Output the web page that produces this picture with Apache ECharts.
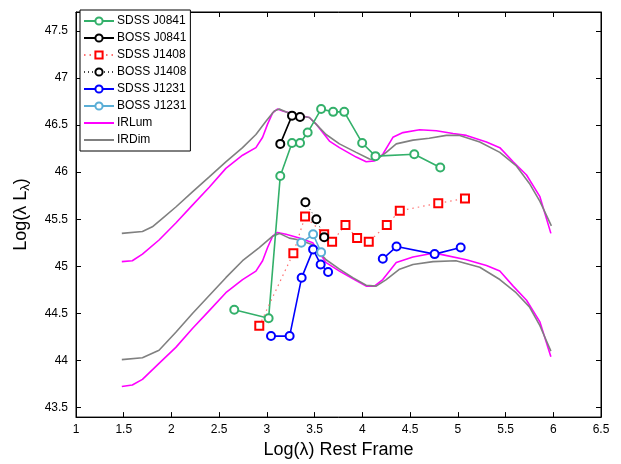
<!DOCTYPE html>
<html><head><meta charset="utf-8">
<script src="https://cdn.jsdelivr.net/npm/echarts@6/dist/echarts.min.js"></script>
<style>html,body{margin:0;padding:0;background:#fff}#c{width:621px;height:464px}</style>
</head><body><div id="c"></div>
<script>
// ---- data ----
const sdssJ0841 = [[2.658,44.54],[3.018,44.45],[3.14,45.96],[3.263,46.31],[3.347,46.31],[3.427,46.42],[3.568,46.67],[3.694,46.64],[3.81,46.64],[3.998,46.31],[4.137,46.17],[4.544,46.19],[4.816,46.05]];
const bossJ0841 = [[3.14,46.30],[3.263,46.60],[3.347,46.586]];
const sdssJ1408 = [[2.92,44.37],[3.277,45.14],[3.40,45.53],[3.60,45.34],[3.683,45.26],[3.823,45.44],[3.945,45.30],[4.067,45.26],[4.256,45.44],[4.392,45.59],[4.795,45.67],[5.075,45.72]];
const bossJ1408 = [[3.403,45.68],[3.518,45.50],[3.60,45.31]];
const sdssJ1231a = [[3.043,44.26],[3.238,44.26],[3.364,44.88],[3.484,45.18],[3.563,45.02],[3.641,44.94]];
const sdssJ1231b = [[4.214,45.08],[4.358,45.21],[4.757,45.13],[5.03,45.20]];
const bossJ1231 = [[3.36,45.25],[3.484,45.34],[3.568,45.15]];
const irLumUpper = [[1.48,45.05],[1.59,45.06],[1.696,45.13],[1.87,45.28],[2.046,45.46],[2.22,45.65],[2.396,45.84],[2.57,46.04],[2.745,46.18],[2.885,46.26],[2.955,46.37],[3.007,46.51],[3.06,46.63],[3.11,46.67],[3.165,46.65],[3.34,46.60],[3.445,46.58],[3.515,46.51],[3.655,46.33],[3.76,46.26],[3.935,46.16],[4.04,46.11],[4.127,46.12],[4.214,46.19],[4.32,46.37],[4.425,46.42],[4.60,46.45],[4.775,46.44],[4.95,46.41],[5.09,46.39],[5.30,46.32],[5.44,46.26],[5.58,46.11],[5.72,45.97],[5.86,45.74],[5.975,45.35]];
const irDimUpper = [[1.48,45.35],[1.696,45.37],[1.80,45.42],[1.906,45.51],[2.046,45.63],[2.22,45.79],[2.396,45.95],[2.57,46.11],[2.745,46.26],[2.885,46.40],[2.99,46.54],[3.077,46.65],[3.13,46.67],[3.27,46.61],[3.445,46.58],[3.515,46.51],[3.62,46.40],[3.76,46.30],[3.935,46.21],[4.075,46.14],[4.145,46.13],[4.25,46.21],[4.355,46.30],[4.53,46.34],[4.70,46.36],[4.88,46.39],[5.02,46.39],[5.23,46.32],[5.44,46.21],[5.61,46.07],[5.75,45.88],[5.86,45.69],[5.98,45.43]];
const irLumLower = [[1.48,43.725],[1.59,43.74],[1.696,43.80],[1.87,43.97],[2.046,44.14],[2.22,44.34],[2.396,44.53],[2.57,44.72],[2.745,44.86],[2.885,44.95],[2.955,45.06],[3.007,45.20],[3.06,45.32],[3.11,45.36],[3.20,45.34],[3.34,45.30],[3.48,45.25],[3.62,45.04],[3.76,44.95],[3.935,44.85],[4.04,44.79],[4.127,44.79],[4.214,44.86],[4.355,45.04],[4.53,45.10],[4.74,45.14],[4.81,45.13],[5.09,45.07],[5.30,45.01],[5.44,44.95],[5.58,44.79],[5.72,44.64],[5.86,44.41],[5.975,44.04]];
const irDimLower = [[1.48,44.01],[1.696,44.03],[1.87,44.11],[2.046,44.30],[2.22,44.50],[2.396,44.69],[2.57,44.88],[2.745,45.06],[2.92,45.20],[3.06,45.32],[3.13,45.35],[3.235,45.30],[3.34,45.28],[3.48,45.23],[3.62,45.07],[3.76,44.97],[3.90,44.88],[4.04,44.80],[4.145,44.79],[4.25,44.86],[4.39,44.97],[4.53,45.02],[4.74,45.05],[4.98,45.06],[5.23,44.99],[5.44,44.86],[5.61,44.72],[5.75,44.57],[5.86,44.37],[5.975,44.10]];
const yTicks = [43.5,44,44.5,45,45.5,46,46.5,47,47.5];
const legendNames = ['SDSS J0841','BOSS J0841','SDSS J1408','BOSS J1408','SDSS J1231','BOSS J1231','IRLum','IRDim'];

const FONT = '"Liberation Sans", Arial, Helvetica, sans-serif';
const GREEN = '#33b06a', BLACK = '#000000', RED = '#ff0000', BLUE = '#0000ff', LBLUE = '#5aaed6', MAG = '#ff00ff', GRAY = '#808080';

function curve(name, data, color) {
  return {name, type:'line', data, showSymbol:false, symbol:'none', color,
    lineStyle:{color, width:1.6}, z:2, silent:true, animation:false};
}
function pts(name, data, color, opts) {
  opts = opts || {};
  return Object.assign({name, type:'line', data, color, symbol:'emptyCircle', symbolSize:8,
    itemStyle:{color, borderWidth:1.6},
    lineStyle:{color, width:1.6}, z:5, animation:false}, opts);
}

const chart = echarts.init(document.getElementById('c'), null, {renderer:'canvas'});
chart.setOption({
  animation:false,
  backgroundColor:'#fff',
  grid:{left:76, right:20, top:12, bottom:42, show:true, borderColor:'#000', borderWidth:1},
  legend:{
    data:legendNames.map(n => (n==='IRLum'||n==='IRDim') ? {name:n, itemStyle:{opacity:0}} : n),
    orient:'vertical', left:80, top:10,
    backgroundColor:'#fff', borderColor:'#000', borderWidth:1,
    padding:[5,4,5,3], itemGap:5, itemWidth:30, itemHeight:9,
    textStyle:{fontFamily:FONT, fontSize:12, color:'#000', padding:[0,0,0,-2]},
    selectedMode:false
  },
  xAxis:[{
    type:'value', min:1, max:6.5, interval:0.5,
    name:'Log(λ) Rest Frame', nameLocation:'middle', nameGap:20,
    nameTextStyle:{fontFamily:FONT, fontSize:18, color:'#000'},
    axisLine:{lineStyle:{color:'#000', width:1}},
    axisTick:{inside:true, length:5, lineStyle:{color:'#000'}},
    axisLabel:{fontFamily:FONT, fontSize:12, color:'#000', margin:7},
    splitLine:{show:false}
  },{
    type:'value', min:1, max:6.5, interval:0.5, position:'top',
    axisLine:{lineStyle:{color:'#000'}},
    axisTick:{inside:true, length:5, lineStyle:{color:'#000'}},
    axisLabel:{show:false}, splitLine:{show:false}
  }],
  yAxis:[{
    type:'value', min:43.4, max:47.7,
    name:'Log(λ L{sub|λ})', nameLocation:'middle', nameGap:44, nameRotate:90,
    nameTextStyle:{fontFamily:FONT, fontSize:18, color:'#000',
      rich:{sub:{fontFamily:FONT, fontSize:13, color:'#000', verticalAlign:'bottom', padding:[8,0,0,0]}}},
    axisLine:{lineStyle:{color:'#000', width:1}},
    axisTick:{inside:true, length:5, lineStyle:{color:'#000'}, customValues:yTicks},
    axisLabel:{fontFamily:FONT, fontSize:12, color:'#000', margin:8, customValues:yTicks,
      formatter:v=>String(Math.round(v*10)/10)},
    splitLine:{show:false}
  },{
    type:'value', min:43.4, max:47.7, position:'right',
    axisLine:{lineStyle:{color:'#000'}},
    axisTick:{inside:true, length:5, lineStyle:{color:'#000'}, customValues:yTicks},
    axisLabel:{show:false, customValues:yTicks}, splitLine:{show:false}
  }],
  series:[
    curve('IRLum', irLumUpper, MAG),
    curve('IRLum', irLumLower, MAG),
    curve('IRDim', irDimUpper, GRAY),
    curve('IRDim', irDimLower, GRAY),
    pts('SDSS J0841', sdssJ0841, GREEN),
    pts('BOSS J0841', bossJ0841, BLACK),
    pts('SDSS J1408', sdssJ1408, RED, {symbol:'emptyRect', symbolSize:8,
      itemStyle:{color:RED, borderWidth:2},
      lineStyle:{color:'#ff7070', width:1.2, type:[1.5,4]}}),
    pts('BOSS J1408', bossJ1408, BLACK, {lineStyle:{color:'#444', width:1, type:[1,3]}}),
    pts('SDSS J1231', sdssJ1231a, BLUE),
    pts('SDSS J1231', sdssJ1231b, BLUE),
    pts('BOSS J1231', bossJ1231, LBLUE)
  ]
});
</script></body></html>
